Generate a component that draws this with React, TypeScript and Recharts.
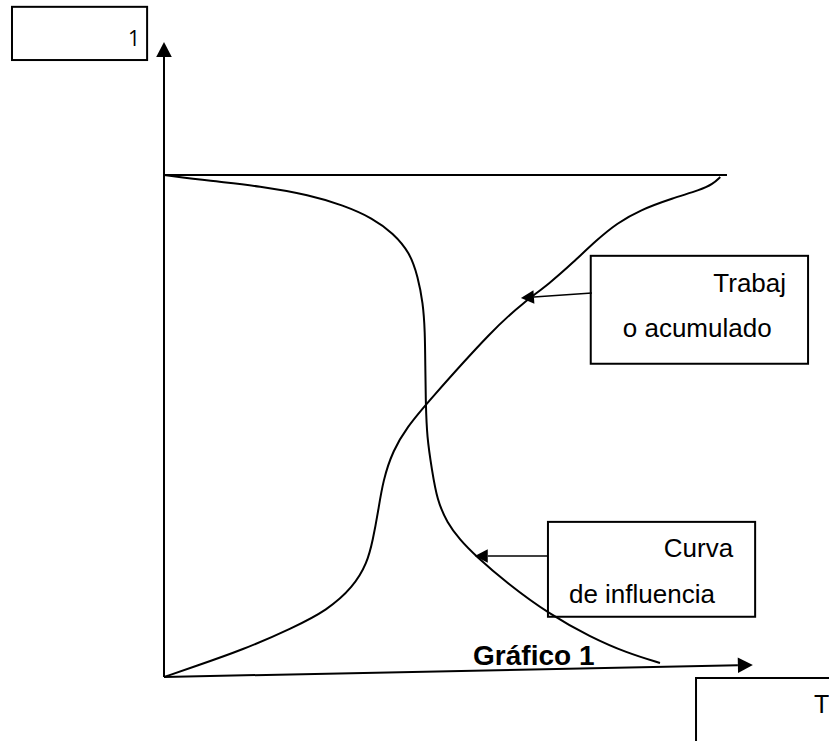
import { ComposedChart, Line, XAxis, YAxis, ReferenceLine, ReferenceArea, ReferenceDot } from 'recharts';

// puntos (x: tiempo normalizado, y: 0..1)
const curvaInfluencia = [
  { x: 0, y: 1 },
  { x: 0.082, y: 0.988 },
  { x: 0.171, y: 0.978 },
  { x: 0.259, y: 0.96 },
  { x: 0.318, y: 0.94 },
  { x: 0.371, y: 0.914 },
  { x: 0.407, y: 0.884 },
  { x: 0.437, y: 0.845 },
  { x: 0.451, y: 0.797 },
  { x: 0.46, y: 0.745 },
  { x: 0.4635, y: 0.691 },
  { x: 0.4642, y: 0.612 },
  { x: 0.465, y: 0.546 },
  { x: 0.467, y: 0.478 },
  { x: 0.476, y: 0.412 },
  { x: 0.485, y: 0.353 },
  { x: 0.503, y: 0.307 },
  { x: 0.526, y: 0.273 },
  { x: 0.552, y: 0.243 },
  { x: 0.609, y: 0.187 },
  { x: 0.686, y: 0.124 },
  { x: 0.757, y: 0.08 },
  { x: 0.822, y: 0.048 },
  { x: 0.881, y: 0.028 },
];

const trabajoAcumulado = [
  { x: 0, y: 0 },
  { x: 0.052, y: 0.02 },
  { x: 0.14, y: 0.054 },
  { x: 0.229, y: 0.098 },
  { x: 0.29, y: 0.133 },
  { x: 0.336, y: 0.179 },
  { x: 0.361, y: 0.227 },
  { x: 0.371, y: 0.273 },
  { x: 0.38, y: 0.327 },
  { x: 0.389, y: 0.392 },
  { x: 0.407, y: 0.452 },
  { x: 0.432, y: 0.498 },
  { x: 0.467, y: 0.546 },
  { x: 0.588, y: 0.697 },
  { x: 0.638, y: 0.745 },
  { x: 0.686, y: 0.785 },
  { x: 0.726, y: 0.825 },
  { x: 0.769, y: 0.871 },
  { x: 0.805, y: 0.904 },
  { x: 0.845, y: 0.93 },
  { x: 0.904, y: 0.954 },
  { x: 0.952, y: 0.97 },
  { x: 0.975, y: 0.982 },
  { x: 0.988, y: 0.996 },
];

// flechas: ejes y señaladores de las cajas
const arrows = [
  { from: { x: 0, y: 0 }, to: { x: 0, y: 1.265 }, head: 15, width: 2 },
  { from: { x: 0, y: 0 }, to: { x: 1.046, y: 0.024 }, head: 15, width: 2 },
  { from: { x: 0.76, y: 0.765 }, to: { x: 0.634, y: 0.755 }, head: 13, width: 1.5 },
  { from: { x: 0.682, y: 0.241 }, to: { x: 0.552, y: 0.241 }, head: 13, width: 1.5 },
];

const FONT = '"Liberation Sans", Arial, sans-serif';
const FONT_1 = '"Open Sans", "Noto Sans", sans-serif';

const boxes = [
  { x1: -0.27, x2: -0.03, y1: 1.229, y2: 1.335, top: '1', bottom: '', size: 21, topY: 39, padR: 7, padL: 0, font: FONT_1 },
  { x1: 0.758, x2: 1.144, y1: 0.624, y2: 0.839, top: 'Trabaj', bottom: 'o acumulado', size: 26, topY: 36, padR: 22, padL: 32, font: FONT },
  { x1: 0.682, x2: 1.05, y1: 0.12, y2: 0.309, top: 'Curva', bottom: 'de influencia', size: 26, topY: 35, padR: 22, padL: 21, font: FONT },
  { x1: 0.945, x2: 1.4, y1: -0.3, y2: -0.002, top: '', bottom: '', size: 25, topY: 35, padR: 0, padL: 0, left: 'T', font: FONT },
];

const Arrow = (props: any) => {
  const { x1, y1, x2, y2, head, width } = props;
  const ang = Math.atan2(y2 - y1, x2 - x1);
  const hw = head * 0.52;
  const bx = x2 - head * Math.cos(ang);
  const by = y2 - head * Math.sin(ang);
  const px = -Math.sin(ang) * hw;
  const py = Math.cos(ang) * hw;
  return (
    <g>
      <line x1={x1} y1={y1} x2={bx} y2={by} stroke="#000" strokeWidth={width} />
      <polygon points={`${x2},${y2} ${bx + px},${by + py} ${bx - px},${by - py}`} fill="#000" />
    </g>
  );
};

export default function App() {
  return (
    <div style={{ position: 'absolute', left: 0, top: 0, background: '#fff' }}>
      <ComposedChart width={829} height={741} margin={{ top: 0, right: 0, bottom: 0, left: 0 }}>
        <XAxis type="number" dataKey="x" domain={[-0.2913, 1.1812]} hide />
        <YAxis type="number" dataKey="y" domain={[-0.1275, 1.3486]} hide />
        <ReferenceLine
          segment={[{ x: 0, y: 1 }, { x: 1, y: 1 }]}
          stroke="#000"
          strokeWidth={2}
          ifOverflow="visible"
        />
        <Line
          data={curvaInfluencia}
          dataKey="y"
          type="basis"
          stroke="#000"
          strokeWidth={2}
          dot={false}
          activeDot={false}
          legendType="none"
          isAnimationActive={false}
        />
        <Line
          data={trabajoAcumulado}
          dataKey="y"
          type="basis"
          stroke="#000"
          strokeWidth={2}
          dot={false}
          activeDot={false}
          legendType="none"
          isAnimationActive={false}
        />
        {boxes.map((b, i) => (
          <ReferenceArea
            key={'b' + i}
            x1={b.x1}
            x2={b.x2}
            y1={b.y1}
            y2={b.y2}
            ifOverflow="visible"
            shape={(p: any) => (
              <g>
                <rect x={p.x} y={p.y} width={p.width} height={p.height} fill="#fff" stroke="#000" strokeWidth={2} />
                {b.top && (
                  <text x={p.x + p.width - b.padR} y={p.y + b.topY} textAnchor="end" fontFamily={b.font} fontSize={b.size} fill="#000">
                    {b.top}
                  </text>
                )}
                {b.bottom && (
                  <text x={p.x + b.padL} y={p.y + 81} textAnchor="start" fontFamily={b.font} fontSize={b.size} fill="#000">
                    {b.bottom}
                  </text>
                )}
                {b.left && (
                  <text x={p.x + 118} y={p.y + b.topY} textAnchor="start" fontFamily={b.font} fontSize={b.size} fill="#000">
                    {b.left}
                  </text>
                )}
              </g>
            )}
          />
        ))}
        {arrows.map((a, i) => (
          <ReferenceLine
            key={'a' + i}
            segment={[a.from, a.to]}
            ifOverflow="visible"
            shape={(p: any) => <Arrow {...p} head={a.head} width={a.width} />}
          />
        ))}
        <ReferenceDot
          x={0.549}
          y={0.024}
          ifOverflow="visible"
          shape={(p: any) => (
            <text x={p.cx} y={p.cy} fontFamily={FONT} fontSize={28} fontWeight="bold" fill="#000">
              Gráfico 1
            </text>
          )}
        />
      </ComposedChart>
    </div>
  );
}
